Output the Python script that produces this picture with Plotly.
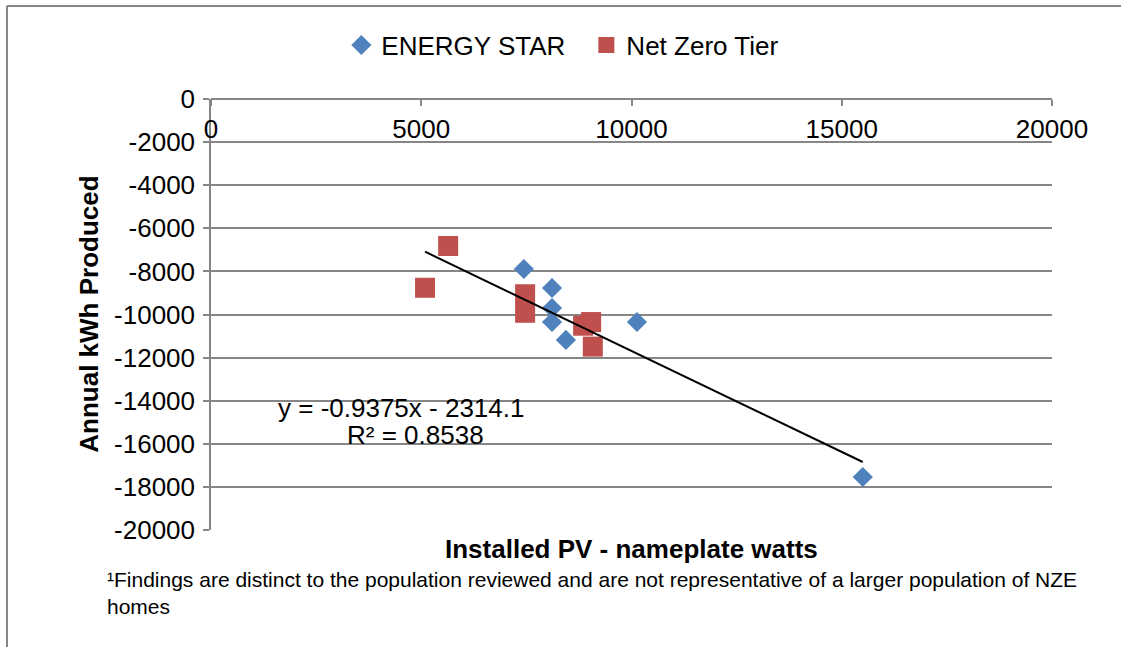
import plotly.graph_objects as go

# values
energy_star_x = [7440, 8110, 8110, 8110, 8440, 10130, 15500]
energy_star_y = [-7890, -8770, -9700, -10350, -11180, -10350, -17540]
net_zero_x = [5090, 5640, 7470, 7470, 8850, 9040, 9080]
net_zero_y = [-8760, -6820, -9060, -9920, -10520, -10350, -11490]

trend_slope = -0.9375
trend_intercept = -2314.1
r_squared = 0.8538

x_ticks = [0, 5000, 10000, 15000, 20000]
y_ticks = list(range(-20000, 1, 2000))

FONT = 'Liberation Sans, Arial, sans-serif'
GRID = '#868686'

all_x = energy_star_x + net_zero_x
trend_x = [min(all_x), max(all_x)]
trend_y = [trend_slope * v + trend_intercept for v in trend_x]

fig = go.Figure()
fig.add_trace(go.Scatter(
    x=energy_star_x, y=energy_star_y, mode='markers', name='ENERGY STAR',
    marker=dict(symbol='diamond', size=15.5, color='#4F81BD', line=dict(width=0)),
))
fig.add_trace(go.Scatter(
    x=net_zero_x, y=net_zero_y, mode='markers', name='Net Zero Tier',
    marker=dict(symbol='square', size=20, color='#C0504D', line=dict(width=0)),
))
fig.add_trace(go.Scatter(
    x=trend_x, y=trend_y, mode='lines', showlegend=False,
    line=dict(color='black', width=2), hoverinfo='skip',
))

fig.update_layout(
    width=1121, height=647,
    margin=dict(l=211, r=69, t=99, b=117),
    paper_bgcolor='white', plot_bgcolor='white',
    font=dict(family=FONT, size=26, color='black'),
    showlegend=True,
    legend=dict(
        orientation='h', x=0.155, y=1.125, xanchor='left', yanchor='middle',
        font=dict(size=26), itemwidth=30, entrywidth=200, bgcolor='rgba(0,0,0,0)',
    ),
    xaxis=dict(
        range=[0, 20000], tickvals=x_ticks, ticktext=[str(v) for v in x_ticks],
        anchor='free', position=1, side='bottom', automargin=False,
        showgrid=False, zeroline=False,
        showline=True, linecolor=GRID, linewidth=1.5,
        ticks='outside', ticklen=6, tickcolor=GRID, tickwidth=1.5,
        tickfont=dict(size=26), ticklabelstandoff=1,
    ),
    yaxis=dict(
        range=[-20000, 0], tickvals=y_ticks, ticktext=[str(v) for v in y_ticks],
        automargin=False,
        showgrid=True, gridcolor=GRID, gridwidth=1.5, zeroline=False,
        showline=True, linecolor=GRID, linewidth=1.5,
        ticks='outside', ticklen=6, tickcolor=GRID, tickwidth=1.5,
        tickfont=dict(size=26), ticklabelstandoff=3,
    ),
    annotations=[
        dict(text='<b>Installed PV - nameplate watts</b>', xref='paper', yref='paper',
             x=0.5, y=-0.044, xanchor='center', yanchor='middle', showarrow=False,
             font=dict(size=26)),
        dict(text='<b>Annual kWh Produced</b>', xref='paper', yref='paper',
             x=-0.146, y=0.5, xanchor='center', yanchor='middle', showarrow=False,
             textangle=-90, font=dict(size=26)),
        dict(text=f'y = {trend_slope}x - {abs(trend_intercept)}',
             xref='x', yref='y', x=4520, y=-14340, xanchor='center', yanchor='middle',
             showarrow=False, font=dict(size=26)),
        dict(text=f'R² = {r_squared}',
             xref='x', yref='y', x=4875, y=-15590, xanchor='center', yanchor='middle',
             showarrow=False, font=dict(size=26)),
        dict(text='¹Findings are distinct to the population reviewed and are not representative '
                  'of a larger population of NZE<br>homes',
             xref='paper', yref='paper', x=-0.126, y=-0.083, xanchor='left', yanchor='top',
             align='left', showarrow=False, font=dict(size=21)),
    ],
    shapes=[
        dict(type='line', xref='paper', yref='paper', x0=-0.2426, x1=-0.2426, y0=-0.3, y1=1.2158,
             line=dict(color=GRID, width=2)),
        dict(type='line', xref='paper', yref='paper', x0=-0.2426, x1=1.1, y0=1.2158, y1=1.2158,
             line=dict(color=GRID, width=2)),
    ],
)

fig.write_html('out.html', config={'displayModeBar': False},
               post_script="document.body.style.margin='0';")
